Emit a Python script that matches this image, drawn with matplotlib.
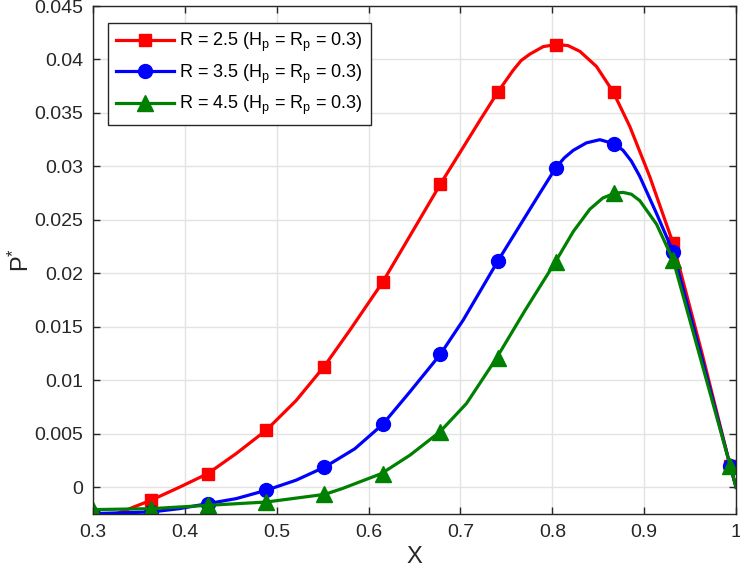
import numpy as np
import matplotlib
matplotlib.use('Agg')
import matplotlib.pyplot as plt

plt.rcParams['font.family'] = ['Liberation Sans', 'DejaVu Sans']
plt.rcParams['mathtext.fontset'] = 'custom'
plt.rcParams['mathtext.rm'] = 'Liberation Sans'
plt.rcParams['mathtext.it'] = 'Liberation Sans'

# curve values (dense, for the lines)
r25_x = [0.300, 0.322, 0.3635, 0.394, 0.425, 0.456, 0.4886, 0.521, 0.5514, 0.5797,
         0.6152, 0.647, 0.6783, 0.7211, 0.741, 0.7574, 0.766, 0.7755, 0.790, 0.804,
         0.817, 0.830, 0.848, 0.866, 0.8843, 0.906, 0.9315, 0.963, 0.993, 1.000]
r25_y = [-0.0033, -0.0026, -0.0012, 0.0000, 0.00128, 0.00316, 0.00534, 0.0081, 0.01127, 0.0147,
         0.01917, 0.0238, 0.02837, 0.0343, 0.0370, 0.0390, 0.0399, 0.0405, 0.0412, 0.0414,
         0.0413, 0.04076, 0.03935, 0.0370, 0.03374, 0.02905, 0.0228, 0.0125, 0.0022, 0.0000]

r35_x = [0.300, 0.3635, 0.394, 0.425, 0.456, 0.4886, 0.521, 0.5525, 0.585, 0.6152,
         0.645, 0.678, 0.703, 0.741, 0.7864, 0.8035, 0.813, 0.8227, 0.837, 0.8517,
         0.868, 0.877, 0.886, 0.895, 0.9134, 0.9315, 0.963, 0.993, 1.000]
r35_y = [-0.00246, -0.00231, -0.0020, -0.00153, -0.00106, -0.00028, 0.00066, 0.0019, 0.0036, 0.00587,
         0.00893, 0.01242, 0.01564, 0.0212, 0.0275, 0.02984, 0.0308, 0.0315, 0.0322, 0.0325,
         0.0321, 0.0315, 0.0305, 0.0291, 0.0256, 0.0220, 0.0120, 0.0022, 0.0000]

r45_x = [0.300, 0.3635, 0.425, 0.4886, 0.5525, 0.572, 0.614, 0.645, 0.6776, 0.7066,
         0.739, 0.770, 0.8035, 0.8227, 0.8408, 0.855, 0.868, 0.877, 0.886, 0.8952,
         0.9134, 0.9315, 0.963, 0.993, 1.000]
r45_y = [-0.00209, -0.0020, -0.00169, -0.00138, -0.00066, -0.0001, 0.00128, 0.0030, 0.00518, 0.00784,
         0.01205, 0.0165, 0.0211, 0.0239, 0.0260, 0.02705, 0.0275, 0.02757, 0.0274, 0.0268,
         0.0246, 0.02125, 0.0115, 0.0022, 0.0000]

# marker positions
mark_x = [0.300, 0.3635, 0.425, 0.4886, 0.5514, 0.6152, 0.678, 0.741, 0.804, 0.867, 0.9315, 0.993]
r25_m = [-0.0033, -0.0012, 0.00128, 0.00534, 0.01127, 0.01917, 0.02837, 0.0370, 0.0414, 0.0370, 0.0228, 0.0020]
r35_m = [-0.00246, -0.00231, -0.00153, -0.00028, 0.0019, 0.00587, 0.01242, 0.0212, 0.02984, 0.0321, 0.0220, 0.0020]
r45_m = [-0.00209, -0.0020, -0.00169, -0.00138, -0.00066, 0.00128, 0.00518, 0.01205, 0.0211, 0.0275, 0.02125, 0.0020]

labels = [r'R = 2.5 (H$_\mathregular{p}$ = R$_\mathregular{p}$ = 0.3)',
          r'R = 3.5 (H$_\mathregular{p}$ = R$_\mathregular{p}$ = 0.3)',
          r'R = 4.5 (H$_\mathregular{p}$ = R$_\mathregular{p}$ = 0.3)']

fig = plt.figure(figsize=(7.4, 5.72), dpi=100)
ax = fig.add_axes([0.1257, 0.1014, 0.869, 0.8881])

series = [(r25_x, r25_y, r25_m, '#ff0000', 's', 9),
          (r35_x, r35_y, r35_m, '#0000ff', 'o', 10),
          (r45_x, r45_y, r45_m, '#008000', '^', 12)]
for (xl, yl, ym, c, m, ms), lab in zip(series, labels):
    ax.plot(xl, yl, color=c, lw=2.3, solid_joinstyle='round')
    ax.plot(mark_x, ym, color=c, lw=0, marker=m, ms=ms)
    ax.plot([], [], color=c, lw=2.3, marker=m, ms=ms, label=lab)

ax.set_xlim(0.3, 1.0)
ax.set_ylim(-0.0025, 0.045)
ax.set_xticks(np.arange(0.3, 1.01, 0.1))
ax.set_xticklabels(['0.3', '0.4', '0.5', '0.6', '0.7', '0.8', '0.9', '1'])
ax.set_yticks(np.arange(0, 0.0451, 0.005))
ax.set_yticklabels(['0', '0.005', '0.01', '0.015', '0.02', '0.025', '0.03', '0.035', '0.04', '0.045'])
ax.grid(True, color='#e3e3e3', lw=1)
ax.set_axisbelow(True)
ax.tick_params(direction='in', top=True, right=True, labelsize=14,
               colors='#262626', length=5, width=1, pad=7)
for s in ax.spines.values():
    s.set_color('#262626')
    s.set_linewidth(1)
ax.set_xlabel('X', fontsize=17, color='#262626', labelpad=4)
ax.set_ylabel(r'P$^\mathregular{*}$', fontsize=17, color='#262626', labelpad=0)

leg = ax.legend(loc='upper left', bbox_to_anchor=(0.0233, 0.9665), fontsize=13,
                handlelength=3.2, fancybox=False, framealpha=1, borderpad=0.45,
                labelspacing=0.45, handletextpad=0.3, borderaxespad=0)
leg.get_frame().set_edgecolor('#262626')
leg.get_frame().set_linewidth(1)

fig.savefig('out.png', dpi=100)
